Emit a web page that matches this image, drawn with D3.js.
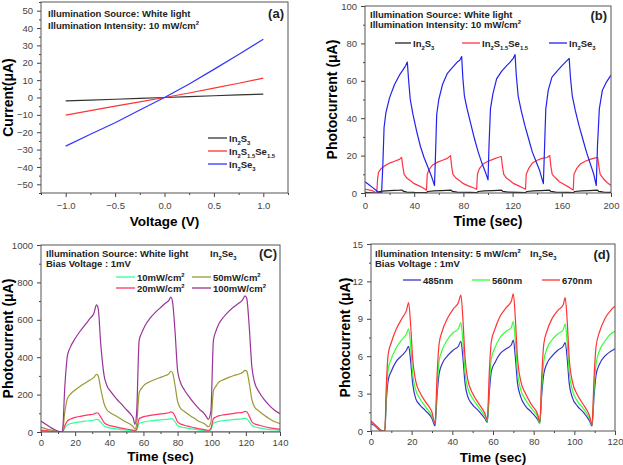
<!DOCTYPE html>
<html><head><meta charset="utf-8">
<script src="https://cdn.jsdelivr.net/npm/d3@7"></script>
<style>
body{margin:0;background:#fff;}
svg{display:block;font-family:"Liberation Sans",Arial,sans-serif;}
</style></head>
<body><svg id="c" width="623" height="465"></svg>
<script>
// ---------- Panel (a): I-V ----------
const voltA = [-1.0,-0.75,-0.5,-0.25,0,0.25,0.5,0.75,1.0];
const ivIn2S3 = [-2.0,-1.5,-1.0,-0.5,0,0.5,1.0,1.5,2.0];
const ivMixed = [-10.2,-7.6,-5.0,-2.5,0,2.6,5.4,8.2,11.2];
const ivIn2Se3 = [-28.0,-21.2,-14.5,-7.2,0,7.8,16.2,24.8,33.5];

// ---------- Panel (b): photocurrent vs time, 10 mW/cm2 ----------
const pbIn2S3 = [[0,0.3],[9,0],[10.5,0.5],[14,1.0],[20,1.3],[28,1.5],[30,1.6],[31,1],[34,0.5],[40,0.3],[50,0.2],[51,0.8],[56,1.1],[62,1.3],[70,1.5],[71,0.9],[75,0.5],[85,0.3],[91,0.2],[92,0.8],[97,1.1],[104,1.3],[111,1.5],[112,0.9],[116,0.5],[125,0.3],[130.5,0.2],[131.5,0.8],[137,1.1],[143,1.3],[150,1.5],[151,0.9],[155,0.5],[165,0.3],[169.5,0.2],[170.5,0.8],[176,1.1],[182,1.3],[189,1.5],[190,0.9],[194,0.5],[200,0.3]];
const pbMixed = [[0,2],[3,1.7],[6,1.2],[8.5,0.4],[9.5,0],[10.3,8],[11,11],[13,13],[16,14.5],[20,16],[24,17],[28,18],[29.8,19],[30.8,14],[31.8,10],[34,8],[37,6.5],[40,5],[44,3.8],[47,2.8],[50,1.5],[50.6,10],[52,12.5],[55,15],[59,16.5],[63,17.5],[67,18.5],[69.5,20],[70.5,14],[71.5,10],[74,8],[77,6.5],[80,5],[84,3.8],[88,2.8],[90.8,2],[91.4,10],[93,13],[96,15.5],[100,17],[104,18],[108,19],[110.8,19.5],[111.8,14],[112.8,10],[115,8],[118,6.5],[121,5],[125,3.8],[128,2.8],[130.5,2],[131.1,10],[133,13],[136,16],[140,17.5],[144,18.5],[148,19],[150.2,20],[151.2,14],[152.2,10],[155,8],[158,6],[162,4.5],[166,3],[169.3,1.6],[169.9,10],[172,13],[175,15.5],[179,17],[183,18],[187,18.8],[189.2,19],[190.2,14],[191.2,10],[194,7.5],[197,5.5],[200,4]];
const pbIn2Se3 = [[0,6],[3,4.5],[6,3],[9,1.5],[11,0.3],[13.5,0],[14.5,15],[15.5,35],[17,43],[20,51],[24,58],[28,63],[31,66],[33,68],[34.4,70],[35.5,60],[36.8,50],[39,42],[42,33],[45,25],[48,19],[51,14],[54,9],[56.5,4],[57.3,20],[58.3,42],[60,50],[63,58],[67,64],[71,67],[75,70],[77,71],[78.6,73],[79.5,62],[80.8,52],[83,45],[86,37],[89,29],[92,22],[95,16],[98,11],[100,7],[100.8,25],[102,45],[104,53],[107,61],[111,65],[115,68],[118,70],[120.5,72],[122,74],[123,63],[124.5,52],[127,44],[130,36],[133,29],[136,22],[139,17],[142,12],[145,5],[146,25],[147,45],[149,55],[152,62],[156,65],[160,68],[163,70],[166,72],[167,62],[168.5,52],[171,44],[174,36],[177,29],[180,22],[183,16],[186,10],[188,4],[189,25],[190.5,45],[193,55],[196,59],[200,63]];

// ---------- Panel (c): intensity dependence ----------
const timeC = [0,3,6,9,11,12.5,14,15.5,17,20,23,26,29,31,32.5,33.5,35,37,38.5,41,44,47,50,52.5,54,55,56,57.5,59,61,64,67,70,73,75,76,77,78.5,80,81.5,84,87,90,93,95.5,97,98,99.5,101,102.5,104,107,110,113,116,118,119.5,120.5,122,123.5,125,128,131,134,137,140];
const pc10 = [6,4,2.5,1,0,0,22,38,44,50,54,58,61,63,68,66,52,32,26,21,17,13,10,7,5,4,10,45,51,55,59,62,65,67,69,72,70,55,35,28,23,18,14,10,8,6,5,12,47,53,57,61,64,67,69,70,73,71,56,36,28,22,17,13,11,9];
const pc20 = [10,7,4,2,0.5,0,35,60,68,78,84,89,93,96,103,100,80,50,40,33,27,21,16,12,9,6,15,70,78,84,89,93,97,100,103,108,106,85,55,44,36,29,22,17,13,10,8,18,72,80,86,92,96,100,103,105,110,108,85,55,44,36,28,22,18,15];
const pc50 = [25,17,10,4,1,0,110,180,200,225,245,262,280,292,308,300,230,150,120,100,85,68,52,40,28,15,40,210,235,255,270,282,292,302,312,325,318,250,165,130,110,90,72,55,45,35,28,50,220,245,265,280,292,302,310,318,330,325,260,175,135,110,88,70,55,45];
const pc100 = [59,40,22,8,2,0,250,410,450,500,540,575,610,635,680,660,470,300,250,215,180,150,120,95,75,40,100,490,530,570,610,640,665,690,705,722,700,540,330,270,225,185,150,120,100,80,68,110,490,540,575,615,645,670,690,705,728,715,560,350,270,210,170,140,115,98];
const pcDark = [0,0,0,0,0,0,0,0,0,0,0,0,0,0,0,0,0,0,0,0,0,0,0,0,0,0,0,0,0,0,0,0,0,0,0,0,0,0,0,0,0,0,0,0,0,0,0,0,0,0,0,0,0,0,0,0,0,0,0,0,0,0,0,0,0,0];

// ---------- Panel (d): wavelength dependence ----------
const timeD = [0,2,4,5.5,6.8,7.5,8.5,10,12.5,15.5,17.5,18.5,19.5,20.5,22,24,27,30,31.5,32.5,33.5,35,37.5,40.5,43,44.2,45.2,46.2,47.5,50,53,56,57.2,58.2,59.2,61,63.5,66.5,69,70,71,72,73.5,76,79,82,83,84,85,86.5,89,92,94.5,95.5,96.5,97.5,99,101.5,104.5,107.5,108.7,109.7,110.7,112.5,115,118,120];
const pd485 = [0.6,0.4,0.1,0,0,2.3,4.1,4.8,5.6,6.1,6.5,6.8,5.6,3.8,2.6,2.1,1.6,1.0,0.4,2.9,4.6,5.4,6.0,6.5,6.8,7.2,5.9,3.9,2.8,2.1,1.6,1.0,0.7,3.1,4.8,5.5,6.2,6.6,6.9,7.3,5.9,3.9,2.8,2.0,1.5,0.9,0.6,3.0,4.6,5.4,6.0,6.5,6.8,7.1,5.8,3.8,2.7,2.0,1.5,0.8,0.4,2.8,4.5,5.4,6.0,6.4,6.6];
const pd560 = [0.7,0.45,0.15,0,0,2.8,5.0,5.8,6.7,7.4,7.8,8.2,6.8,4.6,3.3,2.6,1.9,1.2,0.6,3.5,5.6,6.5,7.3,7.9,8.2,8.7,7.2,4.8,3.5,2.6,1.9,1.2,0.8,3.8,5.8,6.7,7.5,8.0,8.3,8.8,7.2,4.8,3.4,2.5,1.8,1.1,0.6,3.6,5.6,6.6,7.3,7.8,8.1,8.6,7.0,4.7,3.3,2.4,1.8,1.0,0.5,3.4,5.4,6.5,7.2,7.8,8.0];
const pd670 = [0.8,0.5,0.2,0,0,3.5,6.2,7.1,8.2,9.1,9.7,10.3,8.5,5.8,4.0,3.1,2.3,1.5,0.6,4.5,7.0,8.0,9.0,9.8,10.3,10.9,9.0,6.0,4.2,3.0,2.2,1.4,0.9,4.8,7.2,8.2,9.2,9.9,10.4,11.0,9.0,6.0,4.1,3.0,2.1,1.3,0.7,4.5,7.0,8.0,9.0,9.7,10.1,10.7,8.8,5.8,4.0,2.9,2.1,1.2,0.5,4.3,6.8,8.0,9.0,9.7,10.0];

// ---------- Tick values ----------
const ticksAx = [-1.0,-0.5,0,0.5,1.0], ticksAy = [-50,-40,-30,-20,-10,0,10,20,30,40,50];
const ticksBx = [0,40,80,120,160,200], ticksBy = [0,20,40,60,80,100];
const ticksCx = [0,20,40,60,80,100,120,140], ticksCy = [0,200,400,600,800,1000];
const ticksDx = [0,20,40,60,80,100,120], ticksDy = [0,3,6,9,12,15];

const svg = d3.select('#c');
const FONT = '"Liberation Sans", Arial, sans-serif';

function rich(textSel, str, size){
  const re = /([_^])(\{[^}]*\}|.)|([^_^]+)/g;
  let m, cur = 0;
  while ((m = re.exec(str))){
    if (m[3]){
      const t = textSel.append('tspan').attr('font-size', size).text(m[3]);
      if (cur) t.attr('dy', -cur);
      cur = 0;
    } else {
      let s = m[2]; if (s[0]==='{') s = s.slice(1,-1);
      const off = m[1]==='_' ? size*0.32 : -size*0.42;
      textSel.append('tspan').attr('font-size', size*0.62).attr('dy', off-cur).text(s);
      cur = off;
    }
  }
  return textSel;
}

function panel(cfg){
  const g = svg.append('g');
  const x = d3.scaleLinear().domain(cfg.xd).range([cfg.x0, cfg.x1]);
  const y = d3.scaleLinear().domain(cfg.yd).range([cfg.y1, cfg.y0]);
  const axStyle = s => { s.select('.domain').remove(); s.selectAll('line').attr('stroke','#444'); s.selectAll('text').attr('font-family',FONT).attr('font-size',9.5).attr('fill','#444'); };
  g.append('g').attr('transform',`translate(0,${cfg.y1})`)
    .call(d3.axisBottom(x).tickValues(cfg.xminor).tickSize(2).tickFormat('')).call(axStyle);
  g.append('g').attr('transform',`translate(${cfg.x0},0)`)
    .call(d3.axisLeft(y).tickValues(cfg.yminor).tickSize(2).tickFormat('')).call(axStyle);
  g.append('g').attr('transform',`translate(0,${cfg.y1})`)
    .call(d3.axisBottom(x).tickValues(cfg.xt).tickSize(4).tickPadding(cfg.xpad||6).tickFormat(cfg.xf||d3.format('d'))).call(axStyle);
  g.append('g').attr('transform',`translate(${cfg.x0},0)`)
    .call(d3.axisLeft(y).tickValues(cfg.yt).tickSize(4).tickPadding(4).tickFormat(cfg.yf||d3.format('d'))).call(axStyle);
  const id = 'clip'+cfg.name;
  svg.append('clipPath').attr('id',id).append('rect').attr('x',cfg.x0).attr('y',cfg.y0).attr('width',cfg.x1-cfg.x0).attr('height',cfg.y1-cfg.y0);
  const lg = g.append('g').attr('clip-path',`url(#${id})`);
  const line = d3.line().x(d=>x(d[0])).y(d=>y(d[1])).curve(cfg.curve||d3.curveLinear);
  cfg.series.forEach(s=>{
    lg.append('path').datum(s.data).attr('d',line).attr('fill','none').attr('stroke',s.color).attr('stroke-width',s.w||1.2).attr('stroke-linejoin','round');
  });
  g.append('rect').attr('x',cfg.x0).attr('y',cfg.y0).attr('width',cfg.x1-cfg.x0).attr('height',cfg.y1-cfg.y0).attr('fill','none').attr('stroke','#555').attr('stroke-width',1);
  rich(g.append('text').attr('font-family',FONT).attr('font-weight','bold').attr('text-anchor','middle')
    .attr('transform',`translate(${cfg.ytx},${(cfg.y0+cfg.y1)/2+cfg.ytdy}) rotate(-90)`), cfg.ytitle, 14);
  rich(g.append('text').attr('font-family',FONT).attr('font-weight','bold').attr('text-anchor','middle')
    .attr('x',(cfg.x0+cfg.x1)/2).attr('y',cfg.xty), cfg.xtitle, cfg.xts||14);
  cfg.notes.forEach(n=>{
    rich(g.append('text').attr('font-family',FONT).attr('font-weight','bold').attr('fill','#222')
      .attr('x',n.x).attr('y',n.y).attr('text-anchor',n.anchor||'start'), n.t, n.size||9.5);
  });
  cfg.legend.forEach(l=>{
    g.append('line').attr('x1',l.x).attr('x2',l.x+l.len).attr('y1',l.y).attr('y2',l.y).attr('stroke',l.color).attr('stroke-width',1.3);
    rich(g.append('text').attr('font-family',FONT).attr('font-weight','bold').attr('fill','#222')
      .attr('x',l.x+l.len+2).attr('y',l.y+3.5), l.t, 9.5);
  });
}

const zipXY = (xs, ys) => xs.map((v,i)=>[v, ys[i]]);

panel({name:'a', x0:41, x1:288, y0:2, y1:193, xd:[-1.25,1.25], yd:[-55,55],
  xt:ticksAx, yt:ticksAy, xminor:[-1.25,-0.75,-0.25,0.25,0.75,1.25], yminor:d3.range(-55,56,10),
  xf:d3.format('.1f'), xpad:5,
  ytitle:'Current(μA)', ytx:13, ytdy:0, xtitle:'Voltage (V)', xty:226, xts:13.5,
  series:[{data:zipXY(voltA,ivIn2S3),color:'#333333'},{data:zipXY(voltA,ivMixed),color:'#ff3333'},{data:zipXY(voltA,ivIn2Se3),color:'#3333ff'}],
  notes:[{x:48,y:17,t:'Illumination Source: White light'},{x:48,y:29,t:'Illumination Intensity: 10 mW/cm^2'},{x:284,y:18,t:'(a)',size:13,anchor:'end'}],
  legend:[{x:208,y:138,len:19,color:'#333333',t:'In_2S_3'},{x:208,y:151,len:19,color:'#ff3333',t:'In_2S_{1.5}Se_{1.5}'},{x:208,y:164,len:19,color:'#3333ff',t:'In_2Se_3'}]
});

panel({name:'b', x0:365, x1:611, y0:6, y1:193, xd:[0,200], yd:[0,100],
  xt:ticksBx, yt:ticksBy, xminor:[20,60,100,140,180], yminor:[10,30,50,70,90], xpad:5,
  ytitle:'Photocurrent (μA)', ytx:337, ytdy:0, xtitle:'Time (sec)', xty:226,
  series:[{data:pbIn2S3,color:'#222222'},{data:pbMixed,color:'#ff3344'},{data:pbIn2Se3,color:'#2222ee'}],
  notes:[{x:370,y:18,t:'Illumination Source: White light'},{x:370,y:28,t:'Illumination Intensity: 10 mW/cm^2'},{x:607,y:20,t:'(b)',size:13,anchor:'end'}],
  legend:[{x:395,y:43,len:16,color:'#222222',t:'In_2S_3'},{x:462,y:43,len:18,color:'#ff3344',t:'In_2S_{1.5}Se_{1.5}'},{x:549,y:43,len:18,color:'#2222ee',t:'In_2Se_3'}]
});

panel({name:'c', x0:41, x1:280, y0:245, y1:432, xd:[0,140], yd:[0,1000],
  xt:ticksCx, yt:ticksCy, xminor:d3.range(10,140,20), yminor:[100,300,500,700,900], xpad:3,
  ytitle:'Photocurrent (μA)', ytx:13, ytdy:0, xtitle:'Time (sec)', xty:461, xts:13.5,
  curve:d3.curveMonotoneX,
  series:[{data:zipXY(timeC,pcDark),color:'#4455dd'},{data:zipXY(timeC,pc10),color:'#33ff99'},{data:zipXY(timeC,pc20),color:'#ff3366'},{data:zipXY(timeC,pc50),color:'#999933'},{data:zipXY(timeC,pc100),color:'#993399'}],
  notes:[{x:46,y:257,t:'Illumination Source: White light'},{x:46,y:267,t:'Bias Voltage : 1mV'},{x:210,y:257,t:'In_2Se_3'},{x:277,y:258,t:'(C)',size:13,anchor:'end'}],
  legend:[{x:116,y:277,len:19,color:'#33ff99',t:'10mW/cm^2'},{x:116,y:288,len:19,color:'#ff3366',t:'20mW/cm^2'},{x:192,y:277,len:19,color:'#999933',t:'50mW/cm^2'},{x:192,y:288,len:19,color:'#993399',t:'100mW/cm^2'}]
});

panel({name:'d', x0:371, x1:615, y0:244, y1:431, xd:[0,120], yd:[0,15],
  xt:ticksDx, yt:ticksDy, xminor:d3.range(10,120,20), yminor:[1.5,4.5,7.5,10.5,13.5], xpad:3,
  ytitle:'Photocurrent (μA)', ytx:350, ytdy:0, xtitle:'Time (sec)', xty:462, xts:13.5,
  curve:d3.curveMonotoneX,
  series:[{data:zipXY(timeD,pd485),color:'#3333cc'},{data:zipXY(timeD,pd560),color:'#33ff33'},{data:zipXY(timeD,pd670),color:'#ff3333'}],
  notes:[{x:375,y:257,t:'Illumination Intensity: 5 mW/cm^2'},{x:375,y:267,t:'Bias Voltage : 1mV'},{x:530,y:257,t:'In_2Se_3'},{x:610,y:259,t:'(d)',size:13,anchor:'end'}],
  legend:[{x:403,y:280,len:18,color:'#3333cc',t:'485nm'},{x:472,y:280,len:18,color:'#33ff33',t:'560nm'},{x:542,y:280,len:18,color:'#ff3333',t:'670nm'}]
});
</script></body></html>
